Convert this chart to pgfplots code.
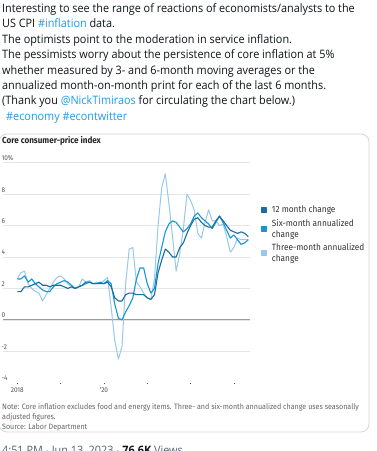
\documentclass[border=0pt]{standalone}
\usepackage{pgfplots}
\pgfplotsset{compat=1.18}
\usepackage{pgfplotstable}
\usepackage{fontspec}
\setmainfont{Open Sans}
\newfontfamily\twfont{Open Sans}[FakeStretch=0.935]
\newfontfamily\chfont{Fira Sans}[FakeStretch=0.92]
\definecolor{twblue}{HTML}{1D9BF0}
\definecolor{twtext}{HTML}{0F1419}
\definecolor{twgray}{HTML}{536471}
\definecolor{cardc}{HTML}{CFD9DE}
\definecolor{c12}{HTML}{1A6E9F}
\definecolor{c6}{HTML}{1596D6}
\definecolor{c3}{HTML}{98C8EA}
\definecolor{gridc}{HTML}{E6E6E6}
\definecolor{zeroc}{HTML}{9A9A9A}
\definecolor{tickc}{HTML}{555555}

\pgfplotstableread{
m v
0 1.8
1 1.8
2 2.1
3 2.1
4 2.2
5 2.3
6 2.4
7 2.2
8 2.2
9 2.1
10 2.2
11 2.2
12 2.2
13 2.1
14 2.0
15 2.1
16 2.0
17 2.1
18 2.2
19 2.4
20 2.4
21 2.3
22 2.3
23 2.3
24 2.3
25 2.4
26 2.1
27 1.4
28 1.2
29 1.2
30 1.6
31 1.7
32 1.7
33 1.6
34 1.6
35 1.6
36 1.4
37 1.3
38 1.6
39 3.0
40 3.8
41 4.5
42 4.3
43 4.0
44 4.0
45 4.6
46 4.9
47 5.5
48 6.0
49 6.4
50 6.5
51 6.2
52 6.0
53 5.9
54 5.9
55 6.3
56 6.6
57 6.3
58 6.0
59 5.7
60 5.6
61 5.5
62 5.6
63 5.5
64 5.3
}\twelve

\pgfplotstableread{
m v
0 2.6
1 2.6
2 2.8
3 2.4
4 2.6
5 2.3
6 2.1
7 1.9
8 1.8
9 1.8
10 2.1
11 2.3
12 2.4
13 2.5
14 2.4
15 2.2
16 2.0
17 2.1
18 2.2
19 2.3
20 2.4
21 2.3
22 2.3
23 2.4
24 2.3
25 2.5
26 2.3
27 1.0
28 0.1
29 0.0
30 0.5
31 0.9
32 1.4
33 2.6
34 3.3
35 3.3
36 2.3
37 1.7
38 2.0
39 3.6
40 4.6
41 5.6
42 6.1
43 6.3
44 6.2
45 5.9
46 5.6
47 5.8
48 6.1
49 6.6
50 6.8
51 6.5
52 6.3
53 6.1
54 5.8
55 6.2
56 6.6
57 6.2
58 5.7
59 5.2
60 5.4
61 5.1
62 4.8
63 4.9
64 5.1
}\six

\pgfplotstableread{
m v
0 2.6
1 3.0
2 3.1
3 2.3
4 2.0
5 1.8
6 1.7
7 1.2
8 1.6
9 2.0
10 2.4
11 2.7
12 2.8
13 2.6
14 2.3
15 2.1
16 2.0
17 2.1
18 2.6
19 2.4
20 2.5
21 2.3
22 2.4
23 2.3
24 2.5
25 2.7
26 0.8
27 -1.3
28 -2.5
29 -1.7
30 2.3
31 4.5
32 4.6
33 2.4
34 2.1
35 1.7
36 1.4
37 1.3
38 2.6
39 6.0
40 8.4
41 9.3
42 7.4
43 5.3
44 3.1
45 4.2
46 5.8
47 8.0
48 7.6
49 7.0
50 5.5
51 5.2
52 6.2
53 7.0
54 6.3
55 6.3
56 6.0
57 6.1
58 5.3
59 4.3
60 4.6
61 5.2
62 5.1
63 5.1
64 5.1
}\three

\begin{document}
\begin{tikzpicture}[x=1pt,y=1pt]
\useasboundingbox (0,0) rectangle (377,452);
\fill[white] (0,0) rectangle (377,452);
% tweet text
\begin{scope}[every node/.style={anchor=base west, inner sep=0pt, text=twtext, font=\twfont\fontsize{11.6}{14}\selectfont}]
\node at (2,452-12.4) {Interesting to see the range of reactions of economists/analysts to the};
\node at (2,452-27.8) {US CPI {\color{twblue}\#inflation} data.};
\node at (2,452-43.3) {The optimists point to the moderation in service inflation.};
\node at (2,452-58.8) {The pessimists worry about the persistence of core inflation at 5\%};
\node at (2,452-74.2) {whether measured by 3- and 6-month moving averages or the};
\node at (2,452-89.6) {annualized month-on-month print for each of the last 6 months.};
\node at (2,452-105.0) {(Thank you {\color{twblue}@NickTimiraos} for circulating the chart below.)};
\node at (6,452-120.4) {{\color{twblue}\#economy \#econtwitter}};
\end{scope}
% card
\draw[cardc, line width=0.8pt, rounded corners=8pt] (-1,452-432) rectangle (369,452-134);
% title
\node[anchor=base west, inner sep=0pt, text=black!85, font=\chfont\bfseries\fontsize{8.8}{10}\selectfont] at (2,452-143.8) {Core consumer-price index};
% notes
\begin{scope}[every node/.style={anchor=base west, inner sep=0pt, text=black!60, font=\chfont\fontsize{7.75}{9}\selectfont}]
\node at (2,452-409.7) {Note: Core inflation excludes food and energy items. Three- and six-month annualized change uses seasonally};
\node at (2,452-419.6) {adjusted figures.};
\node at (2,452-430) {Source: Labor Department};
\end{scope}
% footer
\node[anchor=base west, inner sep=0pt, text=twgray, font=\twfont\fontsize{11.6}{14}\selectfont] at (2,452-454.5) {4:51 PM $\cdot$ Jun 13, 2023 $\cdot$ {\color{twtext}\bfseries 76.6K} Views};
\fill[cardc] (0,0) rectangle (377,1);

\begin{axis}[
  at={(3pt,69.3pt)}, anchor=south west,
  scale only axis, width=247pt, height=220pt,
  xmin=-3.96, xmax=64.46, ymin=-4, ymax=10,
  axis line style={draw=none},
  ytick={-2,0,2,4,6,8,10},
  yticklabels={-2,0,2,4,6,8,10\%},
  extra y ticks={-4}, extra y tick labels={-4},
  extra y tick style={grid=none},
  ymajorgrids, grid style={gridc, line width=0.6pt},
  ytick style={draw=none},
  yticklabel style={anchor=south west, inner sep=0pt, xshift=0pt, yshift=1.8pt, text=tickc, font=\chfont\fontsize{7}{8}\selectfont},
  xtick={0,12,24,36,48,60},
  xticklabels={2018,,'20,,,},
  xtick pos=lower, tick align=outside, major tick length=1.6pt,
  xtick style={draw=black!70, line width=0.8pt},
  xticklabel style={inner sep=0pt, yshift=-3.5pt, text=tickc, font=\chfont\fontsize{7}{8}\selectfont},
  legend style={draw=none, fill=none, at={(axis description cs:1.045,0.812)}, anchor=north west,
    font=\chfont\fontsize{9}{11.2}\selectfont, text=black!80, cells={align=left, anchor=west},
    inner sep=0pt, row sep=0.5pt},
  legend image code/.code={\fill[#1] (0pt,-2.4pt) rectangle (4.8pt,2.4pt); \path (7.5pt,0pt);},
  reverse legend,
  clip=false,
]
\draw[zeroc, line width=1.1pt] (axis cs:-3.96,0) -- (axis cs:64.46,0);
\addplot[c3, line width=1.0pt, line join=round] table[x=m, y=v] {\three};
\addlegendentry{Three-month annualized\\change}
\addplot[c6, line width=1.1pt, line join=round] table[x=m, y=v] {\six};
\addlegendentry{Six-month annualized\\change}
\addplot[c12, line width=1.1pt, line join=round] table[x=m, y=v] {\twelve};
\addlegendentry{12 month change}
\end{axis}
\end{tikzpicture}
\end{document}
